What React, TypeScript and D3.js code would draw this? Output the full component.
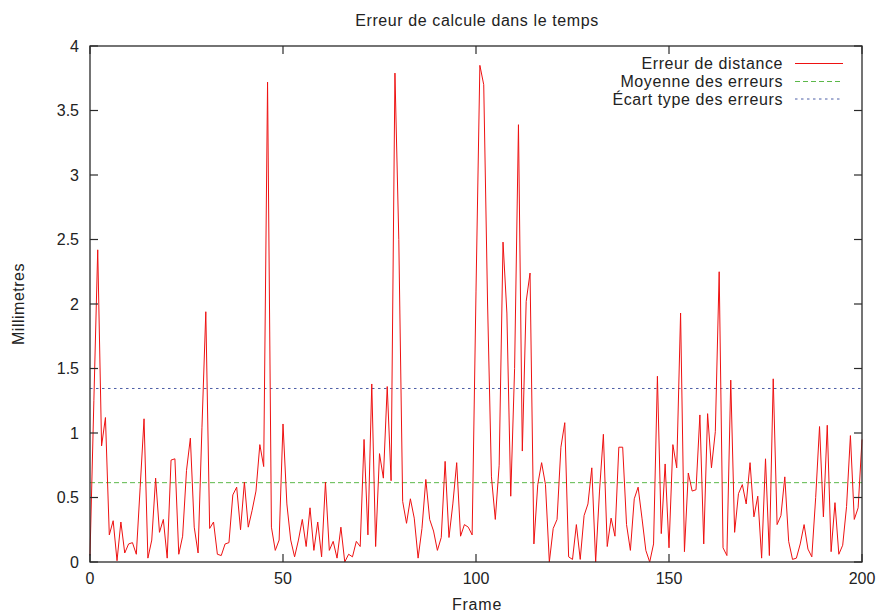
import React from "react";
import * as d3 from "d3";

const frames: number[] = d3.range(0, 201);
const errors: number[] = [
  0.05, 1.25, 2.42, 0.90, 1.12, 0.21, 0.32, 0.01, 0.31, 0.07,
  0.14, 0.15, 0.06, 0.58, 1.11, 0.03, 0.17, 0.65, 0.23, 0.33,
  0.03, 0.79, 0.80, 0.06, 0.20, 0.71, 0.96, 0.27, 0.07, 1.04,
  1.94, 0.26, 0.31, 0.06, 0.05, 0.14, 0.15, 0.52, 0.58, 0.25,
  0.62, 0.27, 0.40, 0.55, 0.91, 0.74, 3.72, 0.27, 0.09, 0.17,
  1.07, 0.45, 0.17, 0.04, 0.17, 0.33, 0.12, 0.42, 0.09, 0.31,
  0.04, 0.62, 0.09, 0.16, 0.03, 0.27, 0.00, 0.06, 0.04, 0.16,
  0.12, 0.95, 0.21, 1.38, 0.12, 0.84, 0.65, 1.36, 0.63, 3.79,
  2.50, 0.47, 0.30, 0.49, 0.34, 0.03, 0.26, 0.64, 0.33, 0.24,
  0.09, 0.19, 0.78, 0.19, 0.45, 0.77, 0.20, 0.29, 0.27, 0.21,
  2.10, 3.85, 3.70, 2.00, 0.66, 0.33, 0.75, 2.48, 1.93, 0.51,
  1.50, 3.39, 0.86, 2.02, 2.24, 0.14, 0.60, 0.77, 0.60, 0.00,
  0.26, 0.33, 0.89, 1.08, 0.04, 0.02, 0.29, 0.02, 0.36, 0.45,
  0.73, 0.00, 0.55, 0.99, 0.12, 0.34, 0.20, 0.89, 0.89, 0.29,
  0.09, 0.49, 0.58, 0.34, 0.09, 0.00, 0.14, 1.44, 0.22, 0.76,
  0.11, 0.91, 0.73, 1.93, 0.08, 0.69, 0.55, 0.56, 1.14, 0.14,
  1.15, 0.73, 1.01, 2.25, 0.11, 0.05, 1.41, 0.23, 0.53, 0.60,
  0.45, 0.77, 0.35, 0.51, 0.03, 0.80, 0.05, 1.42, 0.29, 0.36,
  0.66, 0.16, 0.02, 0.03, 0.14, 0.29, 0.10, 0.04, 0.50, 1.05,
  0.35, 1.06, 0.08, 0.46, 0.06, 0.13, 0.43, 0.98, 0.33, 0.42,
  0.95,
];
const meanError = 0.615;
const stdError = 1.345;
const xTicks: number[] = [0, 50, 100, 150, 200];
const yTicks: number[] = [0, 0.5, 1, 1.5, 2, 2.5, 3, 3.5, 4];
const legendLabels: string[] = [
  "Erreur de distance",
  "Moyenne des erreurs",
  "Écart type des erreurs",
];
const title = "Erreur de calcule dans le temps";
const xLabel = "Frame";
const yLabel = "Millimetres";

const W = 881;
const H = 612;
const L = 90, R = 862, T = 46, B = 562;
const FONT = "'Liberation Sans', Arial, Helvetica, sans-serif";
const RED = "#ee1111";
const GREEN = "#5cb84a";
const BLUE = "#4d5fa6";
const AXIS = "#2a2a2a";
const TEXT = "#222";

export default function App() {
  const x = d3.scaleLinear().domain([0, 200]).range([L, R]);
  const y = d3.scaleLinear().domain([0, 4]).range([B, T]);
  const line = d3
    .line<number>()
    .x((_, i) => x(frames[i]))
    .y((d) => y(d));
  const tl = 8;
  const legendStyles = [
    { stroke: RED, dash: undefined as string | undefined },
    { stroke: GREEN, dash: "5,3" },
    { stroke: BLUE, dash: "2.5,3.5" },
  ];
  const legendY = [63.5, 81.5, 99];

  return (
    <svg
      width={W}
      height={H}
      style={{ position: "absolute", left: 0, top: 0, background: "#fff" }}
      fontFamily={FONT}
    >
      <rect x={0} y={0} width={W} height={H} fill="#fff" />
      <text x={477} y={20} textAnchor="middle" dominantBaseline="central" fontSize={16} letterSpacing={0.6} fill={TEXT}>
        {title}
      </text>

      {/* reference lines */}
      <line x1={L} x2={R} y1={y(meanError)} y2={y(meanError)} stroke={GREEN} strokeWidth={1} strokeDasharray="5,3" />
      <line x1={L} x2={R} y1={y(stdError)} y2={y(stdError)} stroke={BLUE} strokeWidth={1} strokeDasharray="2.5,3.5" />

      {/* data */}
      <path d={line(errors) || ""} fill="none" stroke={RED} strokeWidth={1} strokeLinejoin="miter" />

      {/* frame */}
      <rect x={L} y={T} width={R - L} height={B - T} fill="none" stroke={AXIS} strokeWidth={1.3} />

      {yTicks.map((t) => (
        <g key={"y" + t}>
          <line x1={L} x2={L + tl} y1={y(t)} y2={y(t)} stroke={AXIS} strokeWidth={1.2} />
          <line x1={R} x2={R - tl} y1={y(t)} y2={y(t)} stroke={AXIS} strokeWidth={1.2} />
          <text x={79} y={y(t)} textAnchor="end" dominantBaseline="central" fontSize={16} fill={TEXT}>
            {String(t)}
          </text>
        </g>
      ))}
      {xTicks.map((t) => (
        <g key={"x" + t}>
          <line x1={x(t)} x2={x(t)} y1={B} y2={B - tl} stroke={AXIS} strokeWidth={1.2} />
          <line x1={x(t)} x2={x(t)} y1={T} y2={T + tl} stroke={AXIS} strokeWidth={1.2} />
          <text x={x(t)} y={578} textAnchor="middle" dominantBaseline="central" fontSize={16} fill={TEXT}>
            {String(t)}
          </text>
        </g>
      ))}

      <text x={477} y={604} textAnchor="middle" dominantBaseline="central" fontSize={16} letterSpacing={0.8} fill={TEXT}>
        {xLabel}
      </text>
      <text
        transform={`translate(18,${(T + B) / 2}) rotate(-90)`}
        textAnchor="middle"
        dominantBaseline="central"
        fontSize={16}
        letterSpacing={0.5}
        fill={TEXT}
      >
        {yLabel}
      </text>

      {/* legend */}
      {legendLabels.map((lab, i) => (
        <g key={lab}>
          <text x={783} y={legendY[i]} textAnchor="end" dominantBaseline="central" fontSize={16} letterSpacing={0.6} fill={TEXT}>
            {lab}
          </text>
          <line
            x1={795}
            x2={843}
            y1={legendY[i]}
            y2={legendY[i]}
            stroke={legendStyles[i].stroke}
            strokeWidth={1}
            strokeDasharray={legendStyles[i].dash}
          />
        </g>
      ))}
    </svg>
  );
}
